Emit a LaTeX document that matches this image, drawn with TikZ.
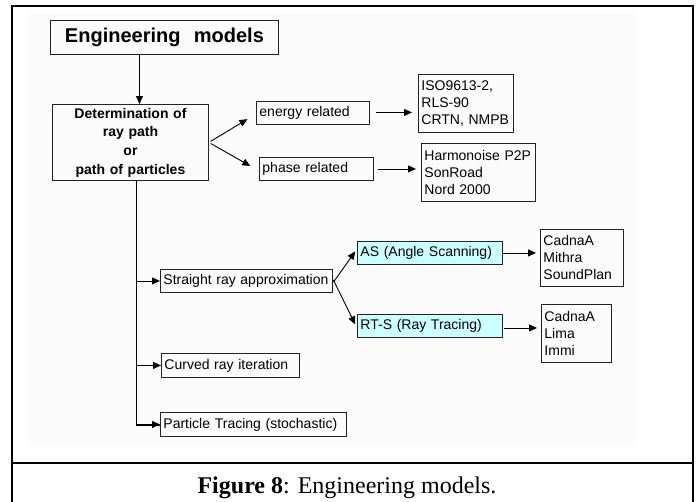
\documentclass[tikz,border=0pt]{standalone}
\usepackage{fontspec}
\setmainfont{Liberation Serif}
\newfontfamily\arialfont{Liberation Sans}
\usetikzlibrary{arrows.meta}
\definecolor{boxline}{HTML}{222222}
\definecolor{lightcyan}{HTML}{CCFFFF}
\begin{document}
\begin{tikzpicture}[x=1pt,y=-1pt,
  box/.style={draw=boxline,line width=0.9pt,anchor=north west,inner xsep=3pt,inner ysep=0pt,
    align=left,font=\arialfont\fontsize{14}{17}\selectfont},
  arr/.style={line width=0.9pt,-{Triangle[length=8pt,width=7pt]}},
  frameline/.style={line width=2pt}]
\useasboundingbox (0,0) rectangle (696,501);
% light panel behind the chart
\fill[black!1.5] (27,14) rectangle (637,446);
% outer frame and caption rule
\draw[frameline] (12,503) -- (12,6) -- (693,6) -- (693,503);
\draw[frameline] (12,463) -- (693,463);

% boxes
\node[box,minimum width=228pt,minimum height=34pt,text width=222pt,align=center,
  font=\arialfont\bfseries\fontsize{20}{24}\selectfont] (eng) at (50,20) {Engineering\ \ models};
\node[box,minimum width=156pt,minimum height=76pt,text width=150pt,align=center,
  font=\arialfont\bfseries\fontsize{14}{18.7}\selectfont] (det) at (52,104)
  {Determination of\\ray path\\or\\path of particles};
\node[box,minimum width=113pt,minimum height=23pt,text width=107pt] (energy) at (256,101) {energy related};
\node[box,minimum width=114pt,minimum height=23pt,text width=108pt] (phase) at (259,157) {phase related};
\node[box,minimum width=95pt,minimum height=58pt,text width=89pt] (iso) at (418,74) {ISO9613-2,\\RLS-90\\CRTN, NMPB};
\node[box,minimum width=114pt,minimum height=58pt,text width=108pt] (harm) at (421,143) {Harmonoise P2P\\SonRoad\\Nord 2000};
\node[box,minimum width=172pt,minimum height=23pt,text width=166pt] (straight) at (160,269) {Straight ray approximation};
\node[box,minimum width=138pt,minimum height=24pt,text width=132pt] (curved) at (161,353) {Curved ray iteration};
\node[box,minimum width=186pt,minimum height=24pt,text width=180pt] (particle) at (160,412) {Particle Tracing (stochastic)};
\node[box,fill=lightcyan,minimum width=145pt,minimum height=23pt,text width=139pt] (as) at (357,241) {AS (Angle Scanning)};
\node[box,fill=lightcyan,minimum width=145pt,minimum height=23pt,text width=139pt] (rts) at (357,314) {RT-S (Ray Tracing)};
\node[box,minimum width=83pt,minimum height=57pt,text width=77pt] (toolsA) at (540,229) {CadnaA\\Mithra\\SoundPlan};
\node[box,minimum width=70pt,minimum height=58pt,text width=64pt] (toolsB) at (541,304) {CadnaA\\Lima\\Immi};

% connectors
\draw[arr] ([xshift=-25pt]eng.south) -- ([xshift=9pt]det.north);
\draw[arr,shorten <=2pt,shorten >=10pt] (det.east) -- ([yshift=-1pt]energy.west);
\draw[arr,shorten <=2pt,shorten >=10pt] (det.east) -- ([yshift=-2pt]phase.west);
\draw[arr,shorten <=6pt,shorten >=6pt] ([yshift=0.5pt]energy.east) -- ([yshift=0.5pt]energy.east -| iso.west);
\draw[arr,shorten <=4pt,shorten >=5pt] (phase.east) -- (phase.east -| harm.west);

\coordinate (trunk) at ([xshift=6pt]det.south);
\draw[line width=0.9pt] (trunk) |- ([yshift=-0.5pt]particle.west);
\draw[arr] (trunk |- particle.west) -- (particle.west);
\draw[arr] (trunk |- straight.west) -- (straight.west);
\draw[arr] (trunk |- curved.west) -- (curved.west);

\draw[arr,shorten <=1pt,shorten >=3pt] ([yshift=-2pt]straight.east) -- ([yshift=4pt]as.west);
\draw[arr,shorten <=1pt,shorten >=4pt] ([yshift=2pt]straight.east) -- ([yshift=-2pt]rts.west);
\draw[arr,shorten >=4pt] (as.east) -- (as.east -| toolsA.west);
\draw[arr,shorten <=1pt,shorten >=4pt] ([yshift=-2pt]rts.east) -- ([yshift=-2pt]rts.east -| toolsB.west);

% caption
\node[anchor=base,font=\fontsize{24}{28}\selectfont,inner sep=0pt] (cap) at (347,493)
  {\textbf{Figure 8}: Engineering models.};
\end{tikzpicture}
\end{document}
